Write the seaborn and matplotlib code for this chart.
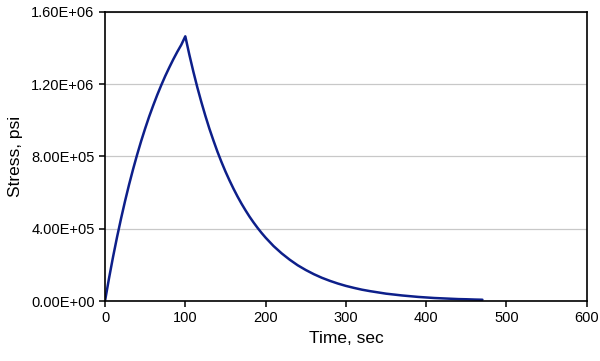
import matplotlib
matplotlib.use("Agg")
import matplotlib.pyplot as plt
import seaborn as sns
import pandas as pd

# valores (cada 5 s hasta 200 s, luego cada 10 s)
tiempo = list(range(0, 200, 5)) + list(range(200, 480, 10))
esfuerzo = [
    0, 1.26e5, 2.44e5, 3.54e5, 4.57e5, 5.54e5, 6.45e5, 7.30e5, 8.10e5, 8.85e5,
    9.55e5, 1.021e6, 1.082e6, 1.140e6, 1.194e6, 1.245e6, 1.292e6, 1.337e6, 1.379e6, 1.418e6,
    1.465e6, 1.364e6, 1.270e6, 1.182e6, 1.101e6, 1.025e6, 9.54e5, 8.89e5, 8.27e5, 7.70e5,
    7.17e5, 6.68e5, 6.22e5, 5.79e5, 5.39e5, 5.02e5, 4.67e5, 4.35e5, 4.05e5, 3.77e5,
    3.51e5, 3.04e5, 2.64e5, 2.29e5, 1.98e5, 1.72e5, 1.49e5, 1.29e5, 1.12e5, 9.7e4,
    8.4e4, 7.3e4, 6.3e4, 5.5e4, 4.8e4, 4.1e4, 3.6e4, 3.1e4, 2.7e4, 2.3e4,
    2.0e4, 1.7e4, 1.5e4, 1.3e4, 1.1e4, 1.0e4, 8.5e3, 7.4e3,
]
ticks_x = [0, 100, 200, 300, 400, 500, 600]
ticks_y = [0, 4e5, 8e5, 1.2e6, 1.6e6]

df = pd.DataFrame({"Tiempo": tiempo, "Esfuerzo": esfuerzo})

sns.set_style("ticks")
plt.rcParams["font.family"] = ["Liberation Sans", "DejaVu Sans"]

fig = plt.figure(figsize=(6, 3.61), dpi=100)
ax = fig.add_axes([0.175, 0.166, 0.803, 0.801])
sns.lineplot(data=df, x="Tiempo", y="Esfuerzo", color="#0d1f8a", linewidth=1.8, ax=ax)

ax.set_xlim(0, 600)
ax.set_ylim(0, 1.6e6)
ax.set_xticks(ticks_x)
ax.set_yticks(ticks_y)
ax.set_yticklabels([f"{v:.2E}" for v in ticks_y])
ax.yaxis.grid(True, color="#c8c8c8", linewidth=0.9)
ax.set_axisbelow(True)
for s in ax.spines.values():
    s.set_color("black")
    s.set_linewidth(1.2)
ax.tick_params(axis="both", labelsize=10.5, length=4, width=1.1, colors="black",
               labelcolor="black", direction="out")
ax.set_xlabel("Time, sec", fontsize=12.5, labelpad=4, color="black")
ax.set_ylabel("Stress, psi", fontsize=12.5, labelpad=6, color="black")

fig.savefig("out.png", dpi=100)
